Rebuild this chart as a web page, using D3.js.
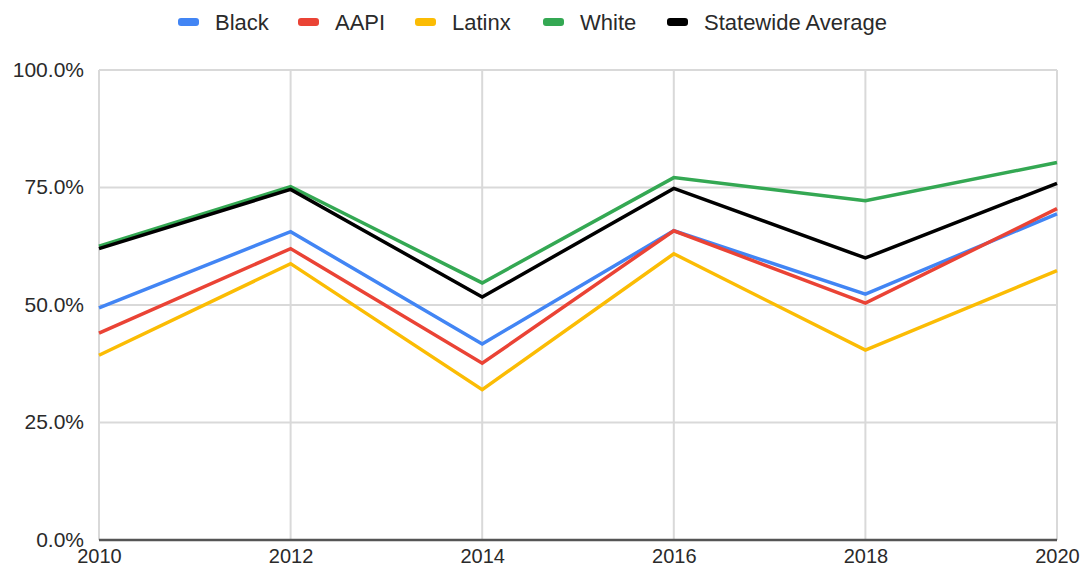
<!DOCTYPE html>
<html>
<head>
<meta charset="utf-8">
<title>Turnout by group</title>
<script src="https://cdn.jsdelivr.net/npm/d3@7"></script>
<style>
  body { margin: 0; background: #fff; }
  text { font-family: "Liberation Sans", Arial, sans-serif; }
</style>
</head>
<body>
<script>
    // data
    var years = [2010, 2012, 2014, 2016, 2018, 2020];
    var seriesNames = ["Black", "AAPI", "Latinx", "White", "Statewide Average"];
    var black   = [49.4, 65.6, 41.7, 65.8, 52.3, 69.4];
    var aapi    = [44.0, 62.0, 37.6, 65.8, 50.4, 70.5];
    var latinx  = [39.3, 58.8, 32.0, 60.9, 40.4, 57.3];
    var white   = [62.5, 75.2, 54.7, 77.1, 72.2, 80.3];
    var average = [62.0, 74.6, 51.7, 74.8, 60.0, 75.9];
    var yTicks  = [0, 25, 50, 75, 100];

    var colors = ["#4285f4", "#ea4335", "#fbbc04", "#34a853", "#000000"];
    var allValues = [black, aapi, latinx, white, average];

    var width = 1084, height = 569;
    var margin = {top: 70, right: 27, bottom: 29, left: 99};

    var svg = d3.select("body").append("svg")
        .attr("width", width)
        .attr("height", height);

    var x = d3.scaleLinear()
        .domain([2010, 2020])
        .range([margin.left, width - margin.right]);

    var y = d3.scaleLinear()
        .domain([0, 100])
        .range([height - margin.bottom, margin.top]);

    // gridlines
    svg.append("g")
        .selectAll("line.hgrid")
        .data(yTicks.slice(1))
        .enter()
        .append("line")
        .attr("x1", x(2010)).attr("x2", x(2020))
        .attr("y1", d => y(d)).attr("y2", d => y(d))
        .attr("stroke", "#d9d9d9")
        .attr("stroke-width", 2);

    svg.append("g")
        .selectAll("line.vgrid")
        .data(years)
        .enter()
        .append("line")
        .attr("x1", d => x(d)).attr("x2", d => x(d))
        .attr("y1", y(100)).attr("y2", y(0))
        .attr("stroke", "#d9d9d9")
        .attr("stroke-width", 2);

    // y axis labels
    var yAxis = svg.append("g")
        .attr("transform", "translate(" + (margin.left - 12) + ",0)")
        .call(d3.axisLeft(y).tickValues(yTicks).tickSize(0).tickFormat(d => d.toFixed(1) + "%"));
    yAxis.select(".domain").remove();
    yAxis.selectAll("text")
        .style("font-size", "21px")
        .attr("fill", "#2a2a2a")
        .attr("dy", "0.3em");

    // x axis labels
    var xAxis = svg.append("g")
        .attr("transform", "translate(0," + (y(0) + 6) + ")")
        .call(d3.axisBottom(x).tickValues(years).tickSize(0).tickFormat(d3.format("d")));
    xAxis.select(".domain").remove();
    xAxis.selectAll("text")
        .style("font-size", "20px")
        .attr("fill", "#2a2a2a");

    // baseline
    svg.append("line")
        .attr("x1", x(2010)).attr("x2", x(2020))
        .attr("y1", y(0)).attr("y2", y(0))
        .attr("stroke", "#555")
        .attr("stroke-width", 2.5);

    // lines
    var line = d3.line()
        .x((d, i) => x(years[i]))
        .y(d => y(d));

    svg.append("g")
        .selectAll("path")
        .data(allValues)
        .enter()
        .append("path")
        .attr("d", d => line(d))
        .attr("fill", "none")
        .attr("stroke", (d, i) => colors[i])
        .attr("stroke-width", 3.5)
        .attr("stroke-linejoin", "miter");

    // legend
    var legendX = [178, 298, 415, 543, 667];
    var legend = svg.append("g")
        .selectAll("g")
        .data(seriesNames)
        .enter()
        .append("g")
        .attr("transform", (d, i) => "translate(" + legendX[i] + ",22)");

    legend.append("rect")
        .attr("x", 0).attr("y", -4)
        .attr("width", 21).attr("height", 8)
        .attr("rx", 3)
        .attr("fill", (d, i) => colors[i]);

    legend.append("text")
        .attr("x", 37)
        .attr("dy", "0.35em")
        .style("font-size", "22px")
        .attr("fill", "#2a2a2a")
        .text(d => d);
</script>
</body>
</html>
